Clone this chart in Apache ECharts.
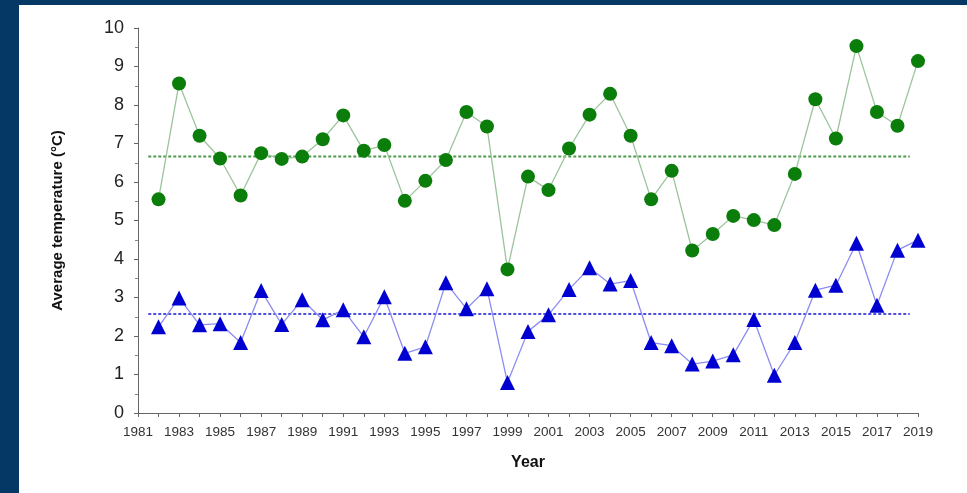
<!DOCTYPE html>
<html>
<head>
<meta charset="utf-8">
<script src="https://cdn.jsdelivr.net/npm/echarts@6/dist/echarts.min.js"></script>
<style>
html,body{margin:0;padding:0;background:#063865;width:967px;height:493px;overflow:hidden;}
#c{position:absolute;left:19px;top:5px;width:948px;height:488px;background:#fff;}
</style>
</head>
<body>
<div id="c"></div>
<script>
const years = [1982,1983,1984,1985,1986,1987,1988,1989,1990,1991,1992,1993,1994,1995,1996,1997,1998,1999,2000,2001,2002,2003,2004,2005,2006,2007,2008,2009,2010,2011,2012,2013,2014,2015,2016,2017,2018,2019];
const greenValues = [5.55,8.56,7.20,6.61,5.65,6.75,6.60,6.66,7.11,7.73,6.81,6.96,5.51,6.03,6.57,7.82,7.44,3.73,6.14,5.79,6.87,7.75,8.29,7.20,5.55,6.29,4.22,4.65,5.12,5.01,4.88,6.21,8.15,7.13,9.53,7.82,7.46,9.14];
const blueValues = [2.24,2.99,2.29,2.32,1.83,3.18,2.30,2.94,2.42,2.68,1.98,3.02,1.55,1.72,3.38,2.71,3.23,0.79,2.12,2.55,3.21,3.77,3.35,3.44,1.83,1.75,1.27,1.35,1.51,2.43,0.98,1.83,3.19,3.32,4.41,2.80,4.23,4.49];
const greenMean = 6.66;
const blueMean = 2.57;
const meanSpan = [1981.5, 2018.6];
const xMin = 1981, xMax = 2019;
const yTicks = [0,1,2,3,4,5,6,7,8,9,10];

const chart = echarts.init(document.getElementById('c'), null, {renderer:'canvas'});
const pair = (xs, ys) => xs.map((x,i)=>[x, ys[i]]);
chart.setOption({
  animation:false,
  backgroundColor:'#ffffff',
  grid:{left:119, right:49, top:23, bottom:80},
  xAxis:{
    type:'value', min:xMin, max:xMax, interval:1,
    name:'Year', nameLocation:'middle', nameGap:42,
    nameTextStyle:{fontFamily:'Liberation Sans', fontWeight:'bold', fontSize:16, color:'#111'},
    axisLine:{lineStyle:{color:'#666', width:1}},
    axisTick:{show:true, length:4, lineStyle:{color:'#666'}},
    splitLine:{show:false},
    axisLabel:{
      fontFamily:'Liberation Sans', fontSize:13.5, color:'#333', margin:12,
      formatter: v => ((v - xMin) % 2 === 0 ? String(v) : '')
    }
  },
  yAxis:{
    type:'value', min:yTicks[0], max:yTicks[yTicks.length-1], interval:1,
    name:'Average temperature (°C)', nameLocation:'middle', nameGap:73, nameRotate:90,
    nameTextStyle:{fontFamily:'Liberation Sans', fontWeight:'bold', fontSize:15, color:'#111'},
    axisLine:{show:true, lineStyle:{color:'#666', width:1}},
    axisTick:{show:true, length:4, lineStyle:{color:'#666'}},
    minorTick:{show:true, splitNumber:2, length:3, lineStyle:{color:'#888'}},
    splitLine:{show:false},
    axisLabel:{fontFamily:'Liberation Sans', fontSize:18, color:'#222', margin:14}
  },
  series:[
    {
      type:'line', name:'green', data:pair(years, greenValues),
      symbol:'circle', symbolSize:14,
      itemStyle:{color:'#0a7d0a'},
      lineStyle:{color:'#9cc49c', width:1.3},
      z:3
    },
    {
      type:'line', name:'blue', data:pair(years, blueValues),
      symbol:'triangle', symbolSize:15,
      itemStyle:{color:'#0000d0'},
      lineStyle:{color:'#8c8cf0', width:1.3},
      z:3
    },
    {
      type:'line', name:'greenMean', data:[[meanSpan[0],greenMean],[meanSpan[1],greenMean]],
      symbol:'none', lineStyle:{color:'#4c9a4c', width:2, type:[3,2]}, z:2
    },
    {
      type:'line', name:'blueMean', data:[[meanSpan[0],blueMean],[meanSpan[1],blueMean]],
      symbol:'none', lineStyle:{color:'#5050e0', width:2, type:[3,2]}, z:2
    }
  ]
});
</script>
</body>
</html>
